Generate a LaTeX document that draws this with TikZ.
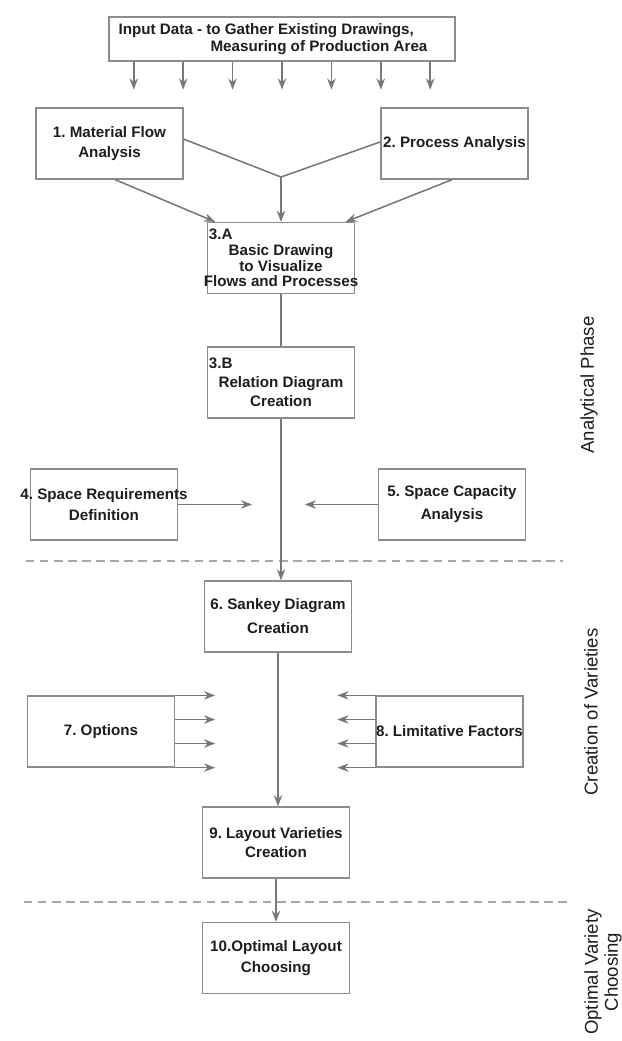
\documentclass[tikz,border=0pt]{standalone}
\usepackage{fontspec}
\setmainfont{Liberation Sans}
\frenchspacing
\usetikzlibrary{positioning, arrows.meta, calc}
\definecolor{stageEdge}{HTML}{8C8C8C}
\definecolor{flowGray}{HTML}{787878}
\definecolor{phaseGray}{HTML}{A8A8A8}
\definecolor{inkDark}{HTML}{1E1E1E}
\newcommand{\wideline}[1]{\makebox[3.6cm]{#1}}

\begin{document}
\begin{tikzpicture}[x=0.025cm, y=-0.025cm,
    stage/.style={draw=stageEdge, line width=0.9pt, rectangle, minimum width=3.675cm, minimum height=1.775cm, align=center, inner sep=1pt, fill=white, text=inkDark, font=\fontsize{10.8}{14}\selectfont\bfseries},
    source/.style={stage, minimum width=8.65cm, minimum height=1.1cm, align=left, font=\fontsize{10.8}{12}\selectfont\bfseries},
    phase/.style={rotate=90, align=center, text=inkDark, font=\fontsize{13.2}{14.2}\selectfont},
    >={Stealth[length=2.8mm, width=2.1mm]},
    line/.style={draw=flowGray, line width=1.1pt},
    flow/.style={line, ->},
    divider/.style={draw=phaseGray, line width=0.9pt, dash pattern=on 6pt off 4pt},
]
\fill[white] (0,0) rectangle (622,1041);
\useasboundingbox (0,0) rectangle (622,1041);
\node[source] (input) at (282,39) {Input Data - to Gather Existing Drawings,\\\hspace*{2.3cm}Measuring of Production Area\hspace*{0.45cm}};
\node[stage] (mfa)      at (109.5,143.5) {1. Material Flow\\Analysis};
\node[stage] (pa)       at (454.5,143.5) {\wideline{2. Process Analysis}};
\node[stage, font=\fontsize{10.8}{11.1}\selectfont\bfseries]
    (basic)    at (281,258)   {\makebox[3.6cm][l]{3.A}\\Basic Drawing\\to Visualize\\\wideline{Flows and Processes}};
\node[stage, font=\fontsize{10.8}{13.5}\selectfont\bfseries]
    (relation) at (281,382.5) {\makebox[3.6cm][l]{3.B}\\Relation Diagram\\Creation};
\node[stage, font=\fontsize{10.8}{15}\selectfont\bfseries]
    (spacereq) at (104,504.5) {\wideline{4. Space Requirements}\\Definition};
\node[stage, font=\fontsize{10.8}{16.4}\selectfont\bfseries]
    (spacecap) at (452,504.5) {5. Space Capacity\\Analysis};
\node[stage, font=\fontsize{10.8}{17}\selectfont\bfseries]
    (sankey)   at (278,616.5) {6. Sankey Diagram\\Creation};
\node[stage] (options)  at (101,731.5) {7. Options};
\node[stage] (limits)   at (449.5,731.5) {\wideline{8. Limitative Factors}};
\node[stage] (layouts)  at (276,842.5) {9. Layout Varieties\\Creation};
\node[stage, font=\fontsize{10.8}{15}\selectfont\bfseries]
    (optimal)  at (276,958)   {\wideline{10.Optimal Layout}\\Choosing};
\node[phase] (analytic) at (589,385) {Analytical Phase};
\node[phase] (variety)  at (591,712) {Creation of Varieties};
\node[phase] (choice)   at (603,972) {Optimal Variety\\Choosing};
\draw[divider] (26,561) -- (563,561);
\draw[divider] (24,902) -- (567,902);
\draw[flow] ([xshift=-3.705cm]input.south) -- ++(0,28);
\draw[flow] ([xshift=-2.47cm]input.south)  -- ++(0,28);
\draw[flow] ([xshift=-1.235cm]input.south) -- ++(0,28);
\draw[flow] (input.south)                  -- ++(0,28);
\draw[flow] ([xshift=1.235cm]input.south)  -- ++(0,28);
\draw[flow] ([xshift=2.47cm]input.south)   -- ++(0,28);
\draw[flow] ([xshift=3.705cm]input.south)  -- ++(0,28);
\coordinate (merge) at (281,177);
\draw[line] ([yshift=0.11cm]mfa.east) -- (merge);
\draw[line] ([yshift=0.04cm]pa.west)  -- (merge);
\draw[flow] (merge) -- (basic.north);
\draw[flow] ([xshift=0.14cm]mfa.south) -- ([xshift=0.21cm]basic.north west);
\draw[flow] ([xshift=-0.06cm]pa.south) -- ([xshift=-0.24cm]basic.north east);
\draw[line] (basic.south) -- (relation.north);
\draw[flow] (relation.south) -- (relation.south |- sankey.north);
\draw[flow] (spacereq.east) -- ++(74,0);
\draw[flow] (spacecap.west) -- ++(-73,0);
\draw[flow] (options.north east)          -- ++(40,0);
\draw[flow] ([yshift=0.3cm]options.east)  -- ++(40,0);
\draw[flow] ([yshift=-0.3cm]options.east) -- ++(40,0);
\draw[flow] (options.south east)          -- ++(40,0);
\draw[flow] (limits.north west)           -- ++(-38,0);
\draw[flow] ([yshift=0.3cm]limits.west)   -- ++(-38,0);
\draw[flow] ([yshift=-0.3cm]limits.west)  -- ++(-38,0);
\draw[flow] (limits.south west)           -- ++(-38,0);
\draw[flow] (sankey.south) -- (sankey.south |- layouts.north);
\draw[flow] (layouts.south) -- (optimal.north);
\end{tikzpicture}
\end{document}
